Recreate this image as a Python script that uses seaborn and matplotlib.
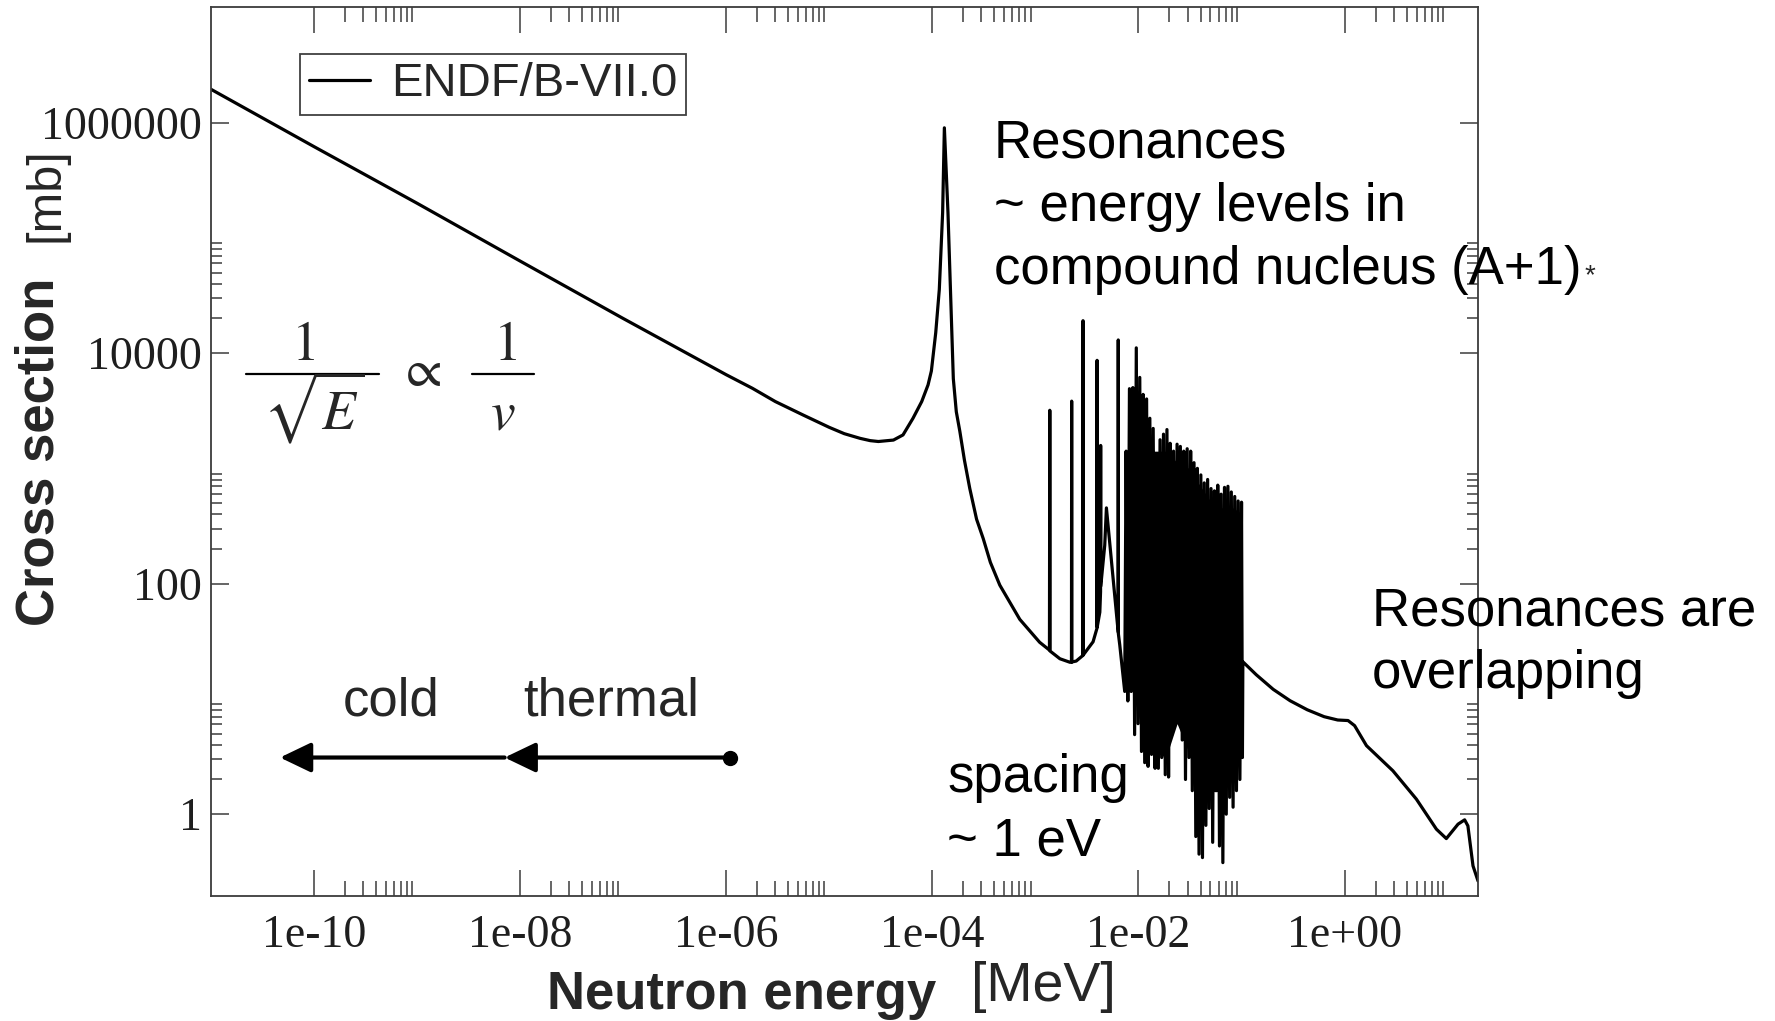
import numpy as np
import pandas as pd
import matplotlib
matplotlib.use("Agg")
import matplotlib.pyplot as plt
import seaborn as sns
from matplotlib.lines import Line2D
from matplotlib.ticker import FixedLocator, FixedFormatter, NullFormatter

# ---------------- data ----------------
# 1/v region and the first big resonance  (energy in MeV, cross section in mb)
energy_smooth = [1.0e-11, 1.0e-10, 1.0e-9, 1.0e-8, 1.0e-7, 1.0e-6, 1.8e-6, 3.0e-6,
                 5.6e-6, 1.0e-5, 1.4e-5, 2.0e-5, 2.5e-5, 3.0e-5, 4.2e-5, 5.2e-5,
                 6.5e-5, 7.9e-5, 9.1e-5, 9.8e-5, 1.08e-4, 1.17e-4, 1.26e-4, 1.31e-4,
                 1.42e-4, 1.54e-4, 1.60e-4, 1.71e-4, 1.85e-4, 2.05e-4, 2.31e-4,
                 2.69e-4, 3.12e-4, 3.66e-4, 4.52e-4, 7.06e-4, 1.10e-3]
sigma_smooth = [1.95e6, 6.2e5, 2.0e5, 6.3e4, 2.0e4, 6.5e3, 4.95e3, 3.8e3,
                2.9e3, 2.27e3, 2.0e3, 1.82e3, 1.74e3, 1.71e3, 1.76e3, 1.95e3,
                2.72e3, 3.8e3, 5.3e3, 7.0e3, 1.5e4, 3.57e4, 1.65e5, 9.0e5,
                1.65e5, 1.67e4, 6.0e3, 3.1e3, 2.1e3, 1.18e3, 6.7e2,
                3.62e2, 2.46e2, 1.53e2, 97, 49, 31]

# isolated narrow resonances on the valley and the second broad bump
energy_wing = [1.37e-3, 1.38e-3, 1.39e-3, 1.73e-3, 2.16e-3, 2.24e-3, 2.25e-3, 2.26e-3,
               2.49e-3, 2.89e-3, 2.90e-3, 2.91e-3, 3.63e-3, 3.96e-3, 3.97e-3, 3.98e-3,
               4.22e-3, 4.29e-3, 4.30e-3, 4.31e-3, 4.71e-3, 4.89e-3, 5.68e-3,
               6.36e-3, 6.37e-3, 6.38e-3, 6.59e-3, 7.36e-3]
sigma_wing = [26.5, 3190, 26, 22.3, 20.8, 20.8, 3830, 20.9,
              21.3, 23.8, 1.91e4, 24, 31.3, 41, 8650, 42,
              56.5, 85, 1580, 95, 215, 454, 111,
              38, 1.30e4, 37, 29.3, 11.6]

# dense resolved-resonance forest (alternating peaks and dips)
energy_dense = [7.59e-3, 7.89e-3, 8.18e-3, 8.51e-3, 8.83e-3, 9.18e-3, 9.53e-3, 9.91e-3,
                1.03e-2, 1.07e-2, 1.11e-2, 1.15e-2, 1.20e-2, 1.24e-2, 1.29e-2, 1.34e-2,
                1.39e-2, 1.45e-2, 1.50e-2, 1.56e-2, 1.62e-2, 1.68e-2, 1.75e-2, 1.82e-2,
                1.89e-2, 1.96e-2, 2.03e-2, 2.11e-2, 2.19e-2, 2.28e-2, 2.37e-2, 2.46e-2,
                2.55e-2, 2.66e-2, 2.75e-2, 2.86e-2, 2.97e-2, 3.09e-2, 3.21e-2, 3.33e-2,
                3.46e-2, 3.60e-2, 3.73e-2, 3.87e-2, 4.03e-2, 4.18e-2, 4.35e-2, 4.51e-2,
                4.69e-2, 4.86e-2, 5.06e-2, 5.25e-2, 5.46e-2, 5.66e-2, 5.88e-2, 6.11e-2,
                6.34e-2, 6.59e-2, 6.84e-2, 7.11e-2, 7.38e-2, 7.67e-2, 7.96e-2, 8.28e-2,
                8.59e-2, 8.93e-2, 9.27e-2, 9.64e-2, 1.00e-1, 1.02e-1]
sigma_dense = [1410, 9.6, 4910, 11.6, 5020, 4.9, 11100, 6.1,
               6150, 3.5, 4380, 2.8, 4000, 2.6, 2720, 3.3,
               2220, 2.5, 897, 2.5, 1770, 3.1, 1980, 2.2,
               2170, 2.1, 1650, 4.9, 1410, 6.1, 1620, 9.9,
               1550, 4.4, 1410, 2.0, 1480, 3.1, 1410, 1.6,
               1120, 0.64, 1000, 0.45, 877, 0.42, 748, 0.80,
               801, 1.12, 668, 0.57, 638, 1.6, 715, 0.53,
               597, 0.38, 684, 1.0, 699, 1.4, 624, 1.15,
               570, 1.6, 521, 2.0, 509, 3.1]

# solid black core of the resonance forest (upper and lower edge)
core_energy = [8.18e-3, 1.11e-2, 1.42e-2, 1.85e-2, 2.37e-2, 3.06e-2, 3.93e-2,
               5.06e-2, 6.46e-2, 8.28e-2, 1.0e-1]
core_upper = [3490, 2790, 1410, 1410, 1125, 1005, 715, 509, 454, 454, 406]
core_lower = [15.2, 4.9, 3.5, 3.1, 6.1, 3.5, 1.57, 1.57, 1.57, 2.48, 3.9]

# unresolved / fast region
energy_tail = [1.03e-1, 1.39e-1, 2.03e-1, 2.96e-1, 4.34e-1, 6.33e-1, 8.57e-1, 1.08,
               1.25, 1.63, 2.94, 4.97, 7.77, 9.70, 12.6, 14.6, 15.7, 17.6, 19.7]
sigma_tail = [21.0, 16.2, 12.1, 9.64, 8.05, 7.01, 6.56, 6.49,
              5.86, 3.93, 2.38, 1.35, 0.741, 0.614, 0.819, 0.893, 0.792, 0.356, 0.263]

series_label = "ENDF/B-VII.0"
xtick_values = [1e-10, 1e-8, 1e-6, 1e-4, 1e-2, 1e0]
xtick_labels = ["1e-10", "1e-08", "1e-06", "1e-04", "1e-02", "1e+00"]
ytick_values = [1, 100, 10000, 1000000]
ytick_labels = ["1", "100", "10000", "1000000"]

# cold / thermal arrows (MeV) at a fixed height (mb)
arrow_start = [1.1e-6, 7.1e-9]
arrow_end = [7.1e-9, 4.7e-11]
arrow_level = 3.1

# ---------------- figure ----------------
sns.set_theme(style="ticks")
plt.rcParams['font.family'] = ['Liberation Sans', 'DejaVu Sans']
plt.rcParams['mathtext.fontset'] = 'stix'

W, H = 1775, 1021
fig = plt.figure(figsize=(W / 100, H / 100), dpi=100)
fig.patch.set_facecolor("white")
L, R, T, B = 210.7, 1478.0, 7.3, 896.0
ax = fig.add_axes([L / W, 1 - B / H, (R - L) / W, (B - T) / H])
ax.set_facecolor("white")
ax.set_xscale("log")
ax.set_yscale("log")

df = pd.DataFrame({
    "energy": energy_smooth + energy_wing + energy_dense + energy_tail,
    "sigma": sigma_smooth + sigma_wing + sigma_dense + sigma_tail,
})
sns.lineplot(data=df, x="energy", y="sigma", ax=ax, color="black", linewidth=2.3,
             sort=False, estimator=None, label=series_label)
ax.fill_between(core_energy, core_lower, core_upper, color="black", lw=0)

ax.set_xlim(1e-11, 10 ** 1.294)
ax.set_ylim(0.195, 1.0e7)
ax.set_xlabel("")
ax.set_ylabel("")

# ticks
xminor = [m * 10.0 ** k for k in (-10, -8, -6, -4, -2, 0) for m in range(2, 10)]
yminor = [m * 10.0 ** k for k in (0, 2, 4) for m in range(2, 10)]
ax.xaxis.set_major_locator(FixedLocator(xtick_values))
ax.xaxis.set_major_formatter(FixedFormatter(xtick_labels))
ax.xaxis.set_minor_locator(FixedLocator(xminor))
ax.xaxis.set_minor_formatter(NullFormatter())
ax.yaxis.set_major_locator(FixedLocator(ytick_values))
ax.yaxis.set_major_formatter(FixedFormatter(ytick_labels))
ax.yaxis.set_minor_locator(FixedLocator(yminor))
ax.yaxis.set_minor_formatter(NullFormatter())

tc = "#3c3c3c"
ax.tick_params(axis="both", which="both", direction="in", top=True, right=True,
               color=tc, width=1.1, labelcolor="#1e1e1e",
               labelfontfamily="Liberation Serif")
ax.tick_params(axis="x", which="major", length=19, labelsize=33, pad=13)
ax.tick_params(axis="x", which="minor", length=11)
ax.tick_params(axis="y", which="major", length=13, labelsize=33, pad=6)
ax.tick_params(axis="y", which="minor", length=8)
for s in ax.spines.values():
    s.set_color(tc)
    s.set_linewidth(1.3)

# legend
leg = ax.legend(loc="upper left",
                bbox_to_anchor=((300 - L) / (R - L), (B - 54) / (B - T)),
                borderaxespad=0, frameon=True, fancybox=False, framealpha=1,
                edgecolor="#404040", fontsize=34, handlelength=1.3,
                handletextpad=0.45, borderpad=0.18)
leg.get_frame().set_linewidth(1.3)

# arrows
for x0, x1 in zip(arrow_start, arrow_end):
    ax.annotate("", xy=(x1, arrow_level), xytext=(x0, arrow_level),
                arrowprops=dict(arrowstyle="-|>,head_length=1.0,head_width=0.48",
                                mutation_scale=19, color="black", lw=3.0,
                                shrinkA=0, shrinkB=0))
ax.plot([arrow_start[0]], [arrow_level], "o", color="black", markersize=10)


def ftext(x, y, s, **kw):
    fig.text(x / W, 1 - y / H, s, **kw)


def fline(x0, x1, y, lw=1.6):
    fig.add_artist(Line2D([x0 / W, x1 / W], [1 - y / H, 1 - y / H],
                          lw=lw, color="black", transform=fig.transFigure))


ann = dict(fontsize=38, color="black", va="baseline", ha="left")
ftext(994, 158, "Resonances", **ann)
ftext(994, 221, "~ energy levels in", **ann)
ftext(994, 284, "compound nucleus (A+1)", **ann)
ftext(1585, 283, "*", fontsize=20, ha="left", va="baseline")
ftext(1372, 626, "Resonances are", **ann)
ftext(1372, 688, "overlapping", **ann)
ftext(947, 792, "spacing", **ann)
ftext(947, 855, "~ 1 eV", **ann)
ftext(391, 716, "cold", fontsize=38, ha="center", va="baseline")
ftext(611, 716, "thermal", fontsize=38, ha="center", va="baseline")

# 1/sqrt(E) ~ 1/v
ftext(303, 360, r"$1$", fontsize=40, ha="center", va="baseline")
fline(245.6, 379.2, 373.6)
ftext(314, 430, r"$\sqrt{E}$", fontsize=40, ha="center", va="baseline")
ftext(420, 372, r"$\propto$", fontsize=38, ha="center", va="center")
ftext(505, 360, r"$1$", fontsize=40, ha="center", va="baseline")
fline(472, 534, 373.6)
ftext(503, 430, r"$v$", fontsize=40, ha="center", va="baseline")

# axis titles
ftext(54, 452, "Cross section", fontsize=38, fontweight="bold", rotation=90,
      rotation_mode="anchor", ha="center", va="baseline")
ftext(58, 195, "[mb]", fontsize=35, rotation=90, rotation_mode="anchor",
      ha="center", va="baseline")
ftext(742, 1009, "Neutron energy", fontsize=38, fontweight="bold",
      ha="center", va="baseline")
ftext(1043, 1001, "[MeV]", fontsize=40, ha="center", va="baseline")

fig.savefig("out.png", dpi=100, facecolor="white")
